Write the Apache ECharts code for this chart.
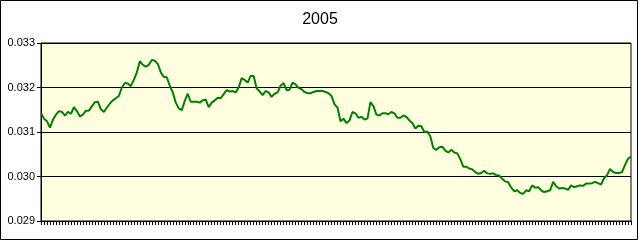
<!DOCTYPE html>
<html>
<head>
<meta charset="utf-8">
<script src="https://cdn.jsdelivr.net/npm/echarts@6/dist/echarts.min.js"></script>
<style>
html,body{margin:0;padding:0;background:#fff;}
#chart{width:640px;height:240px;}
</style>
</head>
<body>
<div id="chart"></div>
<script>
const titleText = "2005";
const yTicks = [0.029, 0.030, 0.031, 0.032, 0.033];
const rateValues = [
0.03143,0.03130,0.03124,0.03110,0.03128,0.03139,0.03147,0.03145,0.03137,0.03145,
0.03141,0.03156,0.03147,0.03135,0.03139,0.03148,0.03148,0.03158,0.03167,0.03168,
0.03151,0.03145,0.03155,0.03164,0.03171,0.03176,0.03181,0.03200,0.03210,0.03209,
0.03203,0.03217,0.03234,0.03259,0.03251,0.03247,0.03251,0.03262,0.03260,0.03253,
0.03234,0.03224,0.03223,0.03204,0.03189,0.03166,0.03153,0.03149,0.03170,0.03186,
0.03168,0.03168,0.03168,0.03166,0.03171,0.03173,0.03156,0.03166,0.03171,0.03177,
0.03176,0.03185,0.03194,0.03191,0.03192,0.03189,0.03200,0.03221,0.03217,0.03211,
0.03226,0.03226,0.03198,0.03191,0.03183,0.03192,0.03189,0.03179,0.03186,0.03189,
0.03204,0.03210,0.03194,0.03195,0.03211,0.03207,0.03199,0.03196,0.03190,0.03187,
0.03187,0.03190,0.03192,0.03192,0.03192,0.03190,0.03187,0.03181,0.03162,0.03155,
0.03124,0.03130,0.03120,0.03126,0.03145,0.03142,0.03132,0.03134,0.03128,0.03130,
0.03167,0.03158,0.03139,0.03137,0.03142,0.03142,0.03140,0.03145,0.03142,0.03132,
0.03132,0.03137,0.03134,0.03126,0.03120,0.03108,0.03114,0.03113,0.03100,0.03101,
0.03090,0.03064,0.03060,0.03066,0.03067,0.03058,0.03054,0.03060,0.03054,0.03052,
0.03039,0.03022,0.03022,0.03018,0.03016,0.03010,0.03006,0.03008,0.03013,0.03007,
0.03006,0.03007,0.03003,0.03002,0.02995,0.02989,0.02987,0.02975,0.02967,0.02969,
0.02963,0.02961,0.02969,0.02967,0.02980,0.02975,0.02976,0.02969,0.02965,0.02967,
0.02969,0.02988,0.02978,0.02973,0.02974,0.02973,0.02970,0.02980,0.02976,0.02978,
0.02980,0.02979,0.02984,0.02984,0.02985,0.02988,0.02985,0.02982,0.02996,0.03003,
0.03017,0.03010,0.03008,0.03008,0.03010,0.03026,0.03040,0.03045
];
const categories = rateValues.map((_, i) => String(i + 1));

const chart = echarts.init(document.getElementById('chart'), null, {renderer: 'canvas'});
chart.setOption({
  animation: false,
  backgroundColor: '#ffffff',
  textStyle: {fontFamily: 'Liberation Sans, Arial, sans-serif'},
  title: {
    text: titleText,
    left: 'center',
    top: 12,
    padding: 0,
    textStyle: {fontSize: 16, fontWeight: 'normal', color: '#000', fontFamily: 'Liberation Sans, Arial, sans-serif'}
  },
  grid: {
    left: 41, top: 43, right: 9, bottom: 19,
    show: true,
    backgroundColor: '#FFFFE0',
    borderColor: '#000',
    borderWidth: 1
  },
  xAxis: {
    type: 'category',
    data: categories,
    boundaryGap: false,
    axisLine: {lineStyle: {color: '#000', width: 1}},
    axisTick: {show: true, interval: 0, length: 4, lineStyle: {color: '#000'}},
    axisLabel: {show: false},
    splitLine: {show: false}
  },
  yAxis: {
    type: 'value',
    min: yTicks[0],
    max: yTicks[yTicks.length - 1],
    interval: 0.001,
    axisLine: {show: true, lineStyle: {color: '#000', width: 1}},
    axisTick: {show: true, length: 4, lineStyle: {color: '#000'}},
    axisLabel: {
      color: '#000', fontSize: 11, margin: 6,
      fontFamily: 'Liberation Sans, Arial, sans-serif',
      formatter: v => v.toFixed(3)
    },
    splitLine: {show: true, lineStyle: {color: '#000', width: 1}}
  },
  series: [{
    type: 'line',
    data: rateValues,
    symbol: 'none',
    smooth: false,
    lineStyle: {color: '#008000', width: 2},
    itemStyle: {color: '#008000'}
  }],
  graphic: [{
    type: 'rect',
    shape: {x: 0.5, y: 0.5, width: 637, height: 239},
    style: {fill: 'none', stroke: '#000', lineWidth: 1},
    z: 100
  }]
});
</script>
</body>
</html>
